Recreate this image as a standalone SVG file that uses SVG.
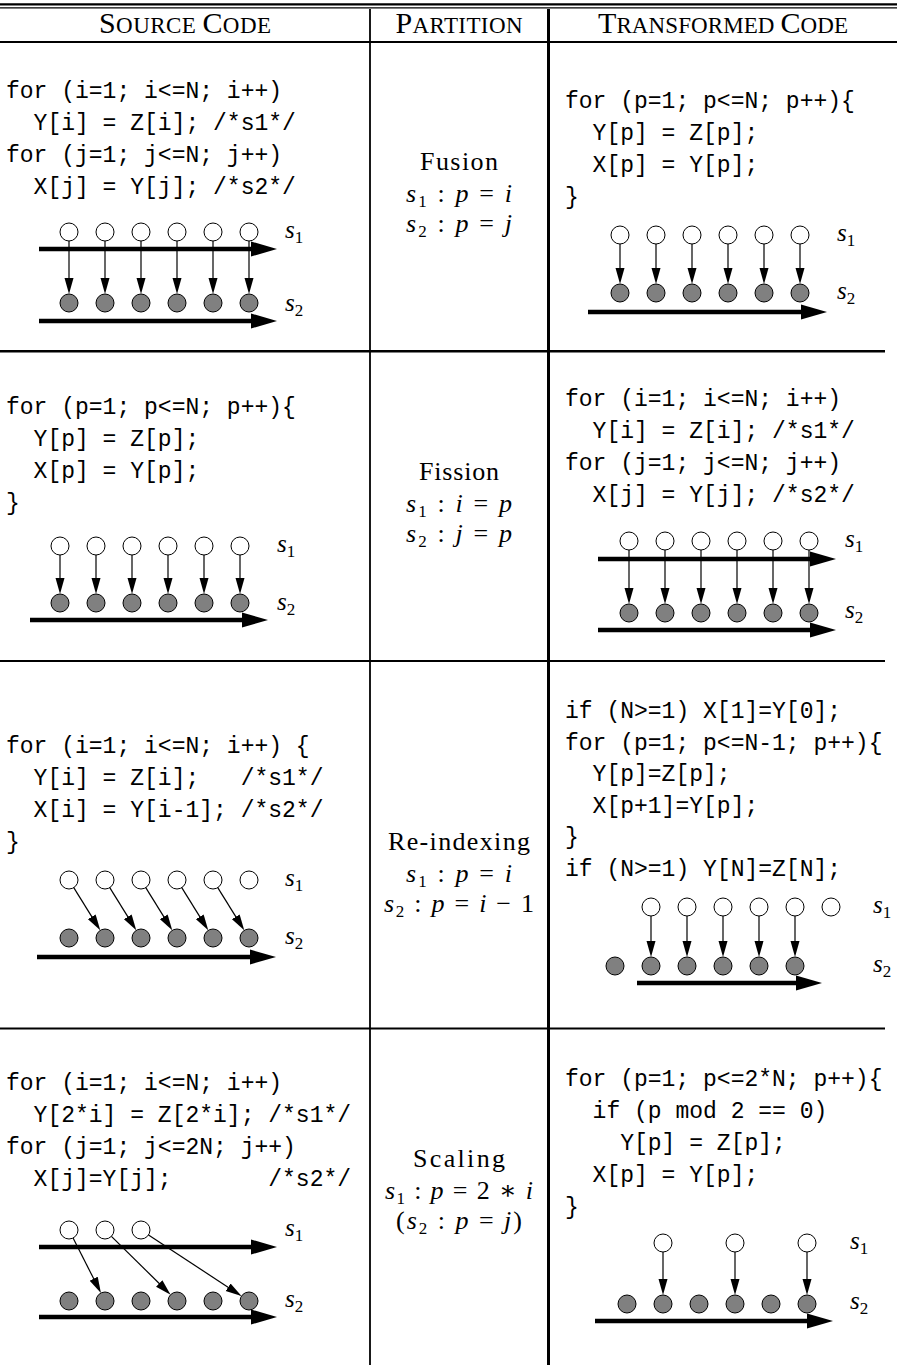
<svg xmlns="http://www.w3.org/2000/svg" width="897" height="1365" viewBox="0 0 897 1365">
<style>
.code{font-family:"Liberation Mono","DejaVu Sans Mono",monospace;font-size:23px;fill:#000;white-space:pre}
.hdr{font-family:"Liberation Serif","DejaVu Serif",serif;fill:#000}
.rm{font-family:"Liberation Serif","DejaVu Serif",serif;font-size:26px;fill:#000}
.it{font-style:italic}
.sub{font-size:17px}
.lab{font-family:"Liberation Serif","DejaVu Serif",serif;font-size:25px;fill:#000}
.w{fill:#fff;stroke:#000;stroke-width:1}
.g{fill:#808080;stroke:#000;stroke-width:1}
.big{stroke:#000;stroke-width:4.5;fill:none;marker-end:url(#ah)}
.thin{stroke:#000;stroke-width:1.2;fill:none;marker-end:url(#as)}
.rule{stroke:#000;fill:none}
</style>
<defs>
<marker id="ah" markerUnits="userSpaceOnUse" markerWidth="26" markerHeight="16" viewBox="0 0 26 16" refX="6" refY="8" orient="auto"><path d="M0,0.5 L26,8 L0,15.5 z" fill="#000"/></marker>
<marker id="as" markerUnits="userSpaceOnUse" markerWidth="16" markerHeight="10" viewBox="0 0 16 10" refX="4" refY="5" orient="auto"><path d="M0,0.5 L16,5 L0,9.5 z" fill="#000"/></marker>
</defs>
<rect x="0" y="0" width="897" height="1365" fill="#fff"/>

<g id="table">
<line class="rule" x1="0" y1="4.3" x2="897" y2="4.3" stroke-width="2.2"/>
<line class="rule" x1="0" y1="7.8" x2="897" y2="7.8" stroke-width="1.2"/>
<line class="rule" x1="0" y1="42" x2="897" y2="42" stroke-width="2.2"/>
<line class="rule" x1="370" y1="9" x2="370" y2="1365" stroke-width="1.8"/>
<line class="rule" x1="548.5" y1="9" x2="548.5" y2="1365" stroke-width="3"/>
<line class="rule" x1="0" y1="351.3" x2="885" y2="351.3" stroke-width="2.6"/>
<line class="rule" x1="0" y1="661" x2="885" y2="661" stroke-width="2.2"/>
<line class="rule" x1="0" y1="1028.5" x2="885" y2="1028.5" stroke-width="2.2"/>
</g>

<g id="header">
<text class="hdr" x="185" y="33" text-anchor="middle" textLength="172" lengthAdjust="spacing"><tspan font-size="30">S</tspan><tspan font-size="23">OURCE </tspan><tspan font-size="30">C</tspan><tspan font-size="23">ODE</tspan></text>
<text class="hdr" x="459" y="33" text-anchor="middle" textLength="127" lengthAdjust="spacing"><tspan font-size="30">P</tspan><tspan font-size="23">ARTITION</tspan></text>
<text class="hdr" x="723" y="33" text-anchor="middle" textLength="250" lengthAdjust="spacing"><tspan font-size="30">T</tspan><tspan font-size="23">RANSFORMED </tspan><tspan font-size="30">C</tspan><tspan font-size="23">ODE</tspan></text>
</g>

<!-- Row 1 -->
<g id="r1-source">
<text class="code" xml:space="preserve" x="6" y="98">for (i=1; i&lt;=N; i++)</text>
<text class="code" xml:space="preserve" x="6" y="130">  Y[i] = Z[i]; /*s1*/</text>
<text class="code" xml:space="preserve" x="6" y="162">for (j=1; j&lt;=N; j++)</text>
<text class="code" xml:space="preserve" x="6" y="194">  X[j] = Y[j]; /*s2*/</text>
<circle class="w" cx="69" cy="232" r="9"/><circle class="w" cx="105" cy="232" r="9"/><circle class="w" cx="141" cy="232" r="9"/><circle class="w" cx="177" cy="232" r="9"/><circle class="w" cx="213" cy="232" r="9"/><circle class="w" cx="249" cy="232" r="9"/>
<circle class="g" cx="69" cy="303" r="9"/><circle class="g" cx="105" cy="303" r="9"/><circle class="g" cx="141" cy="303" r="9"/><circle class="g" cx="177" cy="303" r="9"/><circle class="g" cx="213" cy="303" r="9"/><circle class="g" cx="249" cy="303" r="9"/>
<text class="lab" x="285" y="238"><tspan class="it">s</tspan><tspan class="sub" dy="5">1</tspan></text>
<text class="lab" x="285" y="311"><tspan class="it">s</tspan><tspan class="sub" dy="5">2</tspan></text>
</g>
<g id="r1-partition">
<text class="rm" x="459" y="170" text-anchor="middle" textLength="78" lengthAdjust="spacing">Fusion</text>
<text class="rm" x="459" y="202" text-anchor="middle" textLength="106" lengthAdjust="spacing"><tspan class="it">s</tspan><tspan class="sub" dy="5">1</tspan><tspan dy="-5"> : </tspan><tspan class="it">p</tspan> = <tspan class="it">i</tspan></text>
<text class="rm" x="459" y="232" text-anchor="middle" textLength="106" lengthAdjust="spacing"><tspan class="it">s</tspan><tspan class="sub" dy="5">2</tspan><tspan dy="-5"> : </tspan><tspan class="it">p</tspan> = <tspan class="it">j</tspan></text>
</g>
<g id="r1-transformed">
<text class="code" xml:space="preserve" x="565" y="108">for (p=1; p&lt;=N; p++){</text>
<text class="code" xml:space="preserve" x="565" y="140">  Y[p] = Z[p];</text>
<text class="code" xml:space="preserve" x="565" y="172">  X[p] = Y[p];</text>
<text class="code" xml:space="preserve" x="565" y="204">}</text>
<circle class="w" cx="620" cy="235" r="9"/><circle class="w" cx="656" cy="235" r="9"/><circle class="w" cx="692" cy="235" r="9"/><circle class="w" cx="728" cy="235" r="9"/><circle class="w" cx="764" cy="235" r="9"/><circle class="w" cx="800" cy="235" r="9"/>
<circle class="g" cx="620" cy="293" r="9"/><circle class="g" cx="656" cy="293" r="9"/><circle class="g" cx="692" cy="293" r="9"/><circle class="g" cx="728" cy="293" r="9"/><circle class="g" cx="764" cy="293" r="9"/><circle class="g" cx="800" cy="293" r="9"/>
<text class="lab" x="837" y="241"><tspan class="it">s</tspan><tspan class="sub" dy="5">1</tspan></text>
<text class="lab" x="837" y="299"><tspan class="it">s</tspan><tspan class="sub" dy="5">2</tspan></text>
</g>

<!-- Row 2 -->
<g id="r2-source">
<text class="code" xml:space="preserve" x="6" y="414">for (p=1; p&lt;=N; p++){</text>
<text class="code" xml:space="preserve" x="6" y="446">  Y[p] = Z[p];</text>
<text class="code" xml:space="preserve" x="6" y="478">  X[p] = Y[p];</text>
<text class="code" xml:space="preserve" x="6" y="510">}</text>
<circle class="w" cx="60" cy="546" r="9"/><circle class="w" cx="96" cy="546" r="9"/><circle class="w" cx="132" cy="546" r="9"/><circle class="w" cx="168" cy="546" r="9"/><circle class="w" cx="204" cy="546" r="9"/><circle class="w" cx="240" cy="546" r="9"/>
<circle class="g" cx="60" cy="603" r="9"/><circle class="g" cx="96" cy="603" r="9"/><circle class="g" cx="132" cy="603" r="9"/><circle class="g" cx="168" cy="603" r="9"/><circle class="g" cx="204" cy="603" r="9"/><circle class="g" cx="240" cy="603" r="9"/>
<text class="lab" x="277" y="552"><tspan class="it">s</tspan><tspan class="sub" dy="5">1</tspan></text>
<text class="lab" x="277" y="610"><tspan class="it">s</tspan><tspan class="sub" dy="5">2</tspan></text>
</g>
<g id="r2-partition">
<text class="rm" x="459" y="480" text-anchor="middle" textLength="80" lengthAdjust="spacing">Fission</text>
<text class="rm" x="459" y="512" text-anchor="middle" textLength="106" lengthAdjust="spacing"><tspan class="it">s</tspan><tspan class="sub" dy="5">1</tspan><tspan dy="-5"> : </tspan><tspan class="it">i</tspan> = <tspan class="it">p</tspan></text>
<text class="rm" x="459" y="542" text-anchor="middle" textLength="106" lengthAdjust="spacing"><tspan class="it">s</tspan><tspan class="sub" dy="5">2</tspan><tspan dy="-5"> : </tspan><tspan class="it">j</tspan> = <tspan class="it">p</tspan></text>
</g>
<g id="r2-transformed">
<text class="code" xml:space="preserve" x="565" y="406">for (i=1; i&lt;=N; i++)</text>
<text class="code" xml:space="preserve" x="565" y="438">  Y[i] = Z[i]; /*s1*/</text>
<text class="code" xml:space="preserve" x="565" y="470">for (j=1; j&lt;=N; j++)</text>
<text class="code" xml:space="preserve" x="565" y="502">  X[j] = Y[j]; /*s2*/</text>
<circle class="w" cx="629" cy="541" r="9"/><circle class="w" cx="665" cy="541" r="9"/><circle class="w" cx="701" cy="541" r="9"/><circle class="w" cx="737" cy="541" r="9"/><circle class="w" cx="773" cy="541" r="9"/><circle class="w" cx="809" cy="541" r="9"/>
<circle class="g" cx="629" cy="613" r="9"/><circle class="g" cx="665" cy="613" r="9"/><circle class="g" cx="701" cy="613" r="9"/><circle class="g" cx="737" cy="613" r="9"/><circle class="g" cx="773" cy="613" r="9"/><circle class="g" cx="809" cy="613" r="9"/>
<text class="lab" x="845" y="547"><tspan class="it">s</tspan><tspan class="sub" dy="5">1</tspan></text>
<text class="lab" x="845" y="618"><tspan class="it">s</tspan><tspan class="sub" dy="5">2</tspan></text>
</g>

<!-- Row 3 -->
<g id="r3-source">
<text class="code" xml:space="preserve" x="6" y="753">for (i=1; i&lt;=N; i++) {</text>
<text class="code" xml:space="preserve" x="6" y="785">  Y[i] = Z[i];   /*s1*/</text>
<text class="code" xml:space="preserve" x="6" y="817">  X[i] = Y[i-1]; /*s2*/</text>
<text class="code" xml:space="preserve" x="6" y="849">}</text>
<circle class="w" cx="69" cy="880" r="9"/><circle class="w" cx="105" cy="880" r="9"/><circle class="w" cx="141" cy="880" r="9"/><circle class="w" cx="177" cy="880" r="9"/><circle class="w" cx="213" cy="880" r="9"/><circle class="w" cx="249" cy="880" r="9"/>
<circle class="g" cx="69" cy="938" r="9"/><circle class="g" cx="105" cy="938" r="9"/><circle class="g" cx="141" cy="938" r="9"/><circle class="g" cx="177" cy="938" r="9"/><circle class="g" cx="213" cy="938" r="9"/><circle class="g" cx="249" cy="938" r="9"/>
<text class="lab" x="285" y="886"><tspan class="it">s</tspan><tspan class="sub" dy="5">1</tspan></text>
<text class="lab" x="285" y="944"><tspan class="it">s</tspan><tspan class="sub" dy="5">2</tspan></text>
</g>
<g id="r3-partition">
<text class="rm" x="459" y="850" text-anchor="middle" textLength="142" lengthAdjust="spacing">Re-indexing</text>
<text class="rm" x="459" y="882" text-anchor="middle" textLength="106" lengthAdjust="spacing"><tspan class="it">s</tspan><tspan class="sub" dy="5">1</tspan><tspan dy="-5"> : </tspan><tspan class="it">p</tspan> = <tspan class="it">i</tspan></text>
<text class="rm" x="459" y="912" text-anchor="middle" textLength="150" lengthAdjust="spacing"><tspan class="it">s</tspan><tspan class="sub" dy="5">2</tspan><tspan dy="-5"> : </tspan><tspan class="it">p</tspan> = <tspan class="it">i</tspan> − 1</text>
</g>
<g id="r3-transformed">
<text class="code" xml:space="preserve" x="565" y="718">if (N&gt;=1) X[1]=Y[0];</text>
<text class="code" xml:space="preserve" x="565" y="749.6">for (p=1; p&lt;=N-1; p++){</text>
<text class="code" xml:space="preserve" x="565" y="781.2">  Y[p]=Z[p];</text>
<text class="code" xml:space="preserve" x="565" y="812.8">  X[p+1]=Y[p];</text>
<text class="code" xml:space="preserve" x="565" y="844.4">}</text>
<text class="code" xml:space="preserve" x="565" y="876">if (N&gt;=1) Y[N]=Z[N];</text>
<circle class="w" cx="651" cy="907" r="9"/><circle class="w" cx="687" cy="907" r="9"/><circle class="w" cx="723" cy="907" r="9"/><circle class="w" cx="759" cy="907" r="9"/><circle class="w" cx="795" cy="907" r="9"/><circle class="w" cx="831" cy="907" r="9"/>
<circle class="g" cx="615" cy="966" r="9"/><circle class="g" cx="651" cy="966" r="9"/><circle class="g" cx="687" cy="966" r="9"/><circle class="g" cx="723" cy="966" r="9"/><circle class="g" cx="759" cy="966" r="9"/><circle class="g" cx="795" cy="966" r="9"/>
<text class="lab" x="873" y="913"><tspan class="it">s</tspan><tspan class="sub" dy="5">1</tspan></text>
<text class="lab" x="873" y="972"><tspan class="it">s</tspan><tspan class="sub" dy="5">2</tspan></text>
</g>

<!-- Row 4 -->
<g id="r4-source">
<text class="code" xml:space="preserve" x="6" y="1090">for (i=1; i&lt;=N; i++)</text>
<text class="code" xml:space="preserve" x="6" y="1122">  Y[2*i] = Z[2*i]; /*s1*/</text>
<text class="code" xml:space="preserve" x="6" y="1154">for (j=1; j&lt;=2N; j++)</text>
<text class="code" xml:space="preserve" x="6" y="1186">  X[j]=Y[j];       /*s2*/</text>
<circle class="w" cx="69" cy="1230" r="9"/><circle class="w" cx="105" cy="1230" r="9"/><circle class="w" cx="141" cy="1230" r="9"/>
<circle class="g" cx="69" cy="1301" r="9"/><circle class="g" cx="105" cy="1301" r="9"/><circle class="g" cx="141" cy="1301" r="9"/><circle class="g" cx="177" cy="1301" r="9"/><circle class="g" cx="213" cy="1301" r="9"/><circle class="g" cx="249" cy="1301" r="9"/>
<text class="lab" x="285" y="1236"><tspan class="it">s</tspan><tspan class="sub" dy="5">1</tspan></text>
<text class="lab" x="285" y="1307"><tspan class="it">s</tspan><tspan class="sub" dy="5">2</tspan></text>
</g>
<g id="r4-partition">
<text class="rm" x="459" y="1167" text-anchor="middle" textLength="92" lengthAdjust="spacing">Scaling</text>
<text class="rm" x="459" y="1199" text-anchor="middle" textLength="148" lengthAdjust="spacing"><tspan class="it">s</tspan><tspan class="sub" dy="5">1</tspan><tspan dy="-5"> : </tspan><tspan class="it">p</tspan> = 2 ∗ <tspan class="it">i</tspan></text>
<text class="rm" x="459" y="1229" text-anchor="middle" textLength="126" lengthAdjust="spacing">(<tspan class="it">s</tspan><tspan class="sub" dy="5">2</tspan><tspan dy="-5"> : </tspan><tspan class="it">p</tspan> = <tspan class="it">j</tspan>)</text>
</g>
<g id="r4-transformed">
<text class="code" xml:space="preserve" x="565" y="1086">for (p=1; p&lt;=2*N; p++){</text>
<text class="code" xml:space="preserve" x="565" y="1118">  if (p mod 2 == 0)</text>
<text class="code" xml:space="preserve" x="565" y="1150">    Y[p] = Z[p];</text>
<text class="code" xml:space="preserve" x="565" y="1182">  X[p] = Y[p];</text>
<text class="code" xml:space="preserve" x="565" y="1214">}</text>
<circle class="w" cx="663" cy="1243" r="9"/><circle class="w" cx="735" cy="1243" r="9"/><circle class="w" cx="807" cy="1243" r="9"/>
<circle class="g" cx="627" cy="1304" r="9"/><circle class="g" cx="663" cy="1304" r="9"/><circle class="g" cx="699" cy="1304" r="9"/><circle class="g" cx="735" cy="1304" r="9"/><circle class="g" cx="771" cy="1304" r="9"/><circle class="g" cx="807" cy="1304" r="9"/>
<text class="lab" x="850" y="1249"><tspan class="it">s</tspan><tspan class="sub" dy="5">1</tspan></text>
<text class="lab" x="850" y="1309"><tspan class="it">s</tspan><tspan class="sub" dy="5">2</tspan></text>
</g>

<g id="connectors">
<line class="big" x1="39" y1="249" x2="257" y2="249"/>
<line class="big" x1="39" y1="321" x2="257" y2="321"/>
<line class="thin" x1="69" y1="241" x2="69" y2="282"/>
<line class="thin" x1="105" y1="241" x2="105" y2="282"/>
<line class="thin" x1="141" y1="241" x2="141" y2="282"/>
<line class="thin" x1="177" y1="241" x2="177" y2="282"/>
<line class="thin" x1="213" y1="241" x2="213" y2="282"/>
<line class="thin" x1="249" y1="241" x2="249" y2="282"/>
<line class="big" x1="588" y1="312" x2="807" y2="312"/>
<line class="thin" x1="620" y1="244" x2="620" y2="272"/>
<line class="thin" x1="656" y1="244" x2="656" y2="272"/>
<line class="thin" x1="692" y1="244" x2="692" y2="272"/>
<line class="thin" x1="728" y1="244" x2="728" y2="272"/>
<line class="thin" x1="764" y1="244" x2="764" y2="272"/>
<line class="thin" x1="800" y1="244" x2="800" y2="272"/>
<line class="big" x1="30" y1="620" x2="248" y2="620"/>
<line class="thin" x1="60" y1="555" x2="60" y2="582"/>
<line class="thin" x1="96" y1="555" x2="96" y2="582"/>
<line class="thin" x1="132" y1="555" x2="132" y2="582"/>
<line class="thin" x1="168" y1="555" x2="168" y2="582"/>
<line class="thin" x1="204" y1="555" x2="204" y2="582"/>
<line class="thin" x1="240" y1="555" x2="240" y2="582"/>
<line class="big" x1="598" y1="559" x2="816" y2="559"/>
<line class="big" x1="598" y1="630" x2="816" y2="630"/>
<line class="thin" x1="629" y1="550" x2="629" y2="592"/>
<line class="thin" x1="665" y1="550" x2="665" y2="592"/>
<line class="thin" x1="701" y1="550" x2="701" y2="592"/>
<line class="thin" x1="737" y1="550" x2="737" y2="592"/>
<line class="thin" x1="773" y1="550" x2="773" y2="592"/>
<line class="thin" x1="809" y1="550" x2="809" y2="592"/>
<line class="big" x1="37" y1="957" x2="256" y2="957"/>
<line class="thin" x1="73.75" y1="887.65" x2="93.92" y2="920.15"/>
<line class="thin" x1="109.75" y1="887.65" x2="129.92" y2="920.15"/>
<line class="thin" x1="145.75" y1="887.65" x2="165.92" y2="920.15"/>
<line class="thin" x1="181.75" y1="887.65" x2="201.92" y2="920.15"/>
<line class="thin" x1="217.75" y1="887.65" x2="237.92" y2="920.15"/>
<line class="big" x1="637" y1="983" x2="802" y2="983"/>
<line class="thin" x1="651" y1="916" x2="651" y2="945"/>
<line class="thin" x1="687" y1="916" x2="687" y2="945"/>
<line class="thin" x1="723" y1="916" x2="723" y2="945"/>
<line class="thin" x1="759" y1="916" x2="759" y2="945"/>
<line class="thin" x1="795" y1="916" x2="795" y2="945"/>
<line class="big" x1="39" y1="1247" x2="257" y2="1247"/>
<line class="big" x1="39" y1="1317" x2="257" y2="1317"/>
<line class="thin" x1="73.07" y1="1238.03" x2="95.5" y2="1282.27"/>
<line class="thin" x1="111.41" y1="1236.32" x2="162.05" y2="1286.25" stroke-width="0.9"/>
<line class="thin" x1="148.52" y1="1234.94" x2="231.45" y2="1289.47"/>
<line class="big" x1="595" y1="1321" x2="813" y2="1321"/>
<line class="thin" x1="663" y1="1252" x2="663" y2="1283"/>
<line class="thin" x1="735" y1="1252" x2="735" y2="1283"/>
<line class="thin" x1="807" y1="1252" x2="807" y2="1283"/>
</g>
</svg>
